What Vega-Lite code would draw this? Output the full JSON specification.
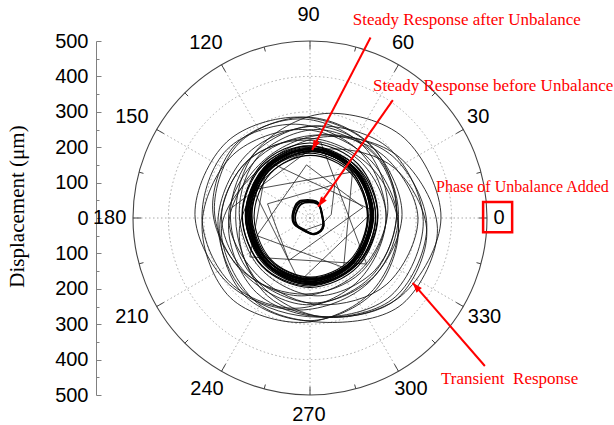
{
  "$schema": "https://vega.github.io/schema/vega-lite/v6.json",
  "width": 354,
  "height": 354,
  "autosize": "none",
  "padding": {"left": 133, "top": 41, "right": 127, "bottom": 30},
  "background": "#ffffff",
  "config": {"view": {"stroke": null}},
  "datasets": {
    "circles": [{"x": 0, "y": 0, "r": 100}, {"x": 0, "y": 0, "r": 200}, {"x": 0, "y": 0, "r": 300}, {"x": 0, "y": 0, "r": 400}],
    "outer": [{"x": 0, "y": 0, "r": 500}],
    "spokes": [
      {"x": 500, "y": 0}, {"x": 433, "y": 250}, {"x": 250, "y": 433}, {"x": 0, "y": 500},
      {"x": -250, "y": 433}, {"x": -433, "y": 250}, {"x": -500, "y": 0}, {"x": -433, "y": -250},
      {"x": -250, "y": -433}, {"x": 0, "y": -500}, {"x": 250, "y": -433}, {"x": 433, "y": -250}
    ],
    "ticks": [
      {"x": 500, "y": 0, "x2": 477, "y2": 0},
      {"x": 433, "y": 250, "x2": 413, "y2": 238.5},
      {"x": 250, "y": 433, "x2": 238.5, "y2": 413},
      {"x": 0, "y": 500, "x2": 0, "y2": 477},
      {"x": -250, "y": 433, "x2": -238.5, "y2": 413},
      {"x": -433, "y": 250, "x2": -413, "y2": 238.5},
      {"x": -500, "y": 0, "x2": -477, "y2": 0},
      {"x": -433, "y": -250, "x2": -413, "y2": -238.5},
      {"x": -250, "y": -433, "x2": -238.5, "y2": -413},
      {"x": 0, "y": -500, "x2": 0, "y2": -477},
      {"x": 250, "y": -433, "x2": 238.5, "y2": -413},
      {"x": 433, "y": -250, "x2": 413, "y2": -238.5},
      {"x": 483, "y": 129.5, "x2": 470.4, "y2": 126.1},
      {"x": 353.5, "y": 353.5, "x2": 344.3, "y2": 344.3},
      {"x": 129.5, "y": 483, "x2": 126.1, "y2": 470.4},
      {"x": -129.5, "y": 483, "x2": -126.1, "y2": 470.4},
      {"x": -353.5, "y": 353.5, "x2": -344.3, "y2": 344.3},
      {"x": -483, "y": 129.5, "x2": -470.4, "y2": 126.1},
      {"x": -483, "y": -129.5, "x2": -470.4, "y2": -126.1},
      {"x": -353.5, "y": -353.5, "x2": -344.3, "y2": -344.3},
      {"x": -129.5, "y": -483, "x2": -126.1, "y2": -470.4},
      {"x": 129.5, "y": -483, "x2": 126.1, "y2": -470.4},
      {"x": 353.5, "y": -353.5, "x2": 344.3, "y2": -344.3},
      {"x": 483, "y": -129.5, "x2": 470.4, "y2": -126.1}
    ],
    "transient": [
      {"g": "t1", "x": 320, "y": -10}, {"g": "t1", "x": 225, "y": 195}, {"g": "t1", "x": 20, "y": 260}, {"g": "t1", "x": -174, "y": 184}, {"g": "t1", "x": -260, "y": -10}, {"g": "t1", "x": -182, "y": -212}, {"g": "t1", "x": 20, "y": -280}, {"g": "t1", "x": 229, "y": -219},
      {"g": "t2", "x": 260, "y": 10}, {"g": "t2", "x": 168, "y": 208}, {"g": "t2", "x": -30, "y": 285}, {"g": "t2", "x": -235, "y": 215}, {"g": "t2", "x": -325, "y": 10}, {"g": "t2", "x": -228, "y": -188}, {"g": "t2", "x": -30, "y": -260}, {"g": "t2", "x": 164, "y": -184},
      {"g": "t3", "x": 360, "y": -30}, {"g": "t3", "x": 252, "y": 172}, {"g": "t3", "x": 50, "y": 230}, {"g": "t3", "x": -130, "y": 150}, {"g": "t3", "x": -250, "y": -30}, {"g": "t3", "x": -155, "y": -235}, {"g": "t3", "x": 50, "y": -295}, {"g": "t3", "x": 262, "y": -242},
      {"g": "t4", "x": 245, "y": 20}, {"g": "t4", "x": 174, "y": 204}, {"g": "t4", "x": -10, "y": 285}, {"g": "t4", "x": -201, "y": 211}, {"g": "t4", "x": -270, "y": 20}, {"g": "t4", "x": -187, "y": -157}, {"g": "t4", "x": -10, "y": -245}, {"g": "t4", "x": 174, "y": -164},
      {"g": "t5", "x": 305, "y": 0}, {"g": "t5", "x": 207, "y": 177}, {"g": "t5", "x": 30, "y": 235}, {"g": "t5", "x": -143, "y": 173}, {"g": "t5", "x": -230, "y": 0}, {"g": "t5", "x": -140, "y": -170}, {"g": "t5", "x": 30, "y": -245}, {"g": "t5", "x": 217, "y": -187},
      {"g": "t6", "x": 250, "y": -20}, {"g": "t6", "x": 167, "y": 167}, {"g": "t6", "x": -20, "y": 250}, {"g": "t6", "x": -218, "y": 178}, {"g": "t6", "x": -305, "y": -20}, {"g": "t6", "x": -225, "y": -225}, {"g": "t6", "x": -20, "y": -295}, {"g": "t6", "x": 171, "y": -211},
      {"g": "t7", "x": 250, "y": 10}, {"g": "t7", "x": 183, "y": 183}, {"g": "t7", "x": 10, "y": 260}, {"g": "t7", "x": -160, "y": 180}, {"g": "t7", "x": -225, "y": 10}, {"g": "t7", "x": -163, "y": -163}, {"g": "t7", "x": 10, "y": -240}, {"g": "t7", "x": 183, "y": -163},
      {"g": "t8", "x": 330, "y": -20}, {"g": "t8", "x": 234, "y": 174}, {"g": "t8", "x": 40, "y": 235}, {"g": "t8", "x": -137, "y": 157}, {"g": "t8", "x": -230, "y": -20}, {"g": "t8", "x": -151, "y": -211}, {"g": "t8", "x": 40, "y": -280}, {"g": "t8", "x": 242, "y": -222},
      {"g": "t9", "x": 215, "y": 0}, {"g": "t9", "x": 144, "y": 184}, {"g": "t9", "x": -40, "y": 265}, {"g": "t9", "x": -234, "y": 194}, {"g": "t9", "x": -305, "y": 0}, {"g": "t9", "x": -224, "y": -184}, {"g": "t9", "x": -40, "y": -255}, {"g": "t9", "x": 137, "y": -177},
      {"g": "t10", "x": 250, "y": -30}, {"g": "t10", "x": 173, "y": 143}, {"g": "t10", "x": 0, "y": 225}, {"g": "t10", "x": -184, "y": 154}, {"g": "t10", "x": -255, "y": -30}, {"g": "t10", "x": -187, "y": -217}, {"g": "t10", "x": 0, "y": -290}, {"g": "t10", "x": 180, "y": -210},
      {"g": "t11", "x": 245, "y": 15}, {"g": "t11", "x": 183, "y": 178}, {"g": "t11", "x": 20, "y": 250}, {"g": "t11", "x": -143, "y": 178}, {"g": "t11", "x": -200, "y": 15}, {"g": "t11", "x": -139, "y": -144}, {"g": "t11", "x": 20, "y": -220}, {"g": "t11", "x": 183, "y": -148},
      {"g": "t12", "x": 215, "y": 5}, {"g": "t12", "x": 141, "y": 161}, {"g": "t12", "x": -15, "y": 220}, {"g": "t12", "x": -174, "y": 164}, {"g": "t12", "x": -250, "y": 5}, {"g": "t12", "x": -178, "y": -158}, {"g": "t12", "x": -15, "y": -215}, {"g": "t12", "x": 144, "y": -154},
      {"g": "t13", "x": 330, "y": -40}, {"g": "t13", "x": 240, "y": 140}, {"g": "t13", "x": 60, "y": 195}, {"g": "t13", "x": -110, "y": 130}, {"g": "t13", "x": -200, "y": -40}, {"g": "t13", "x": -120, "y": -220}, {"g": "t13", "x": 60, "y": -280}, {"g": "t13", "x": 247, "y": -227},
      {"g": "t14", "x": 220, "y": 25}, {"g": "t14", "x": 152, "y": 202}, {"g": "t14", "x": -25, "y": 280}, {"g": "t14", "x": -209, "y": 209}, {"g": "t14", "x": -275, "y": 25}, {"g": "t14", "x": -195, "y": -145}, {"g": "t14", "x": -25, "y": -220}, {"g": "t14", "x": 145, "y": -145},
      {"g": "t15", "x": 370, "y": 0}, {"g": "t15", "x": 266, "y": 226}, {"g": "t15", "x": 40, "y": 295}, {"g": "t15", "x": -151, "y": 191}, {"g": "t15", "x": -210, "y": 0}, {"g": "t15", "x": -144, "y": -184}, {"g": "t15", "x": 40, "y": -280}, {"g": "t15", "x": 259, "y": -219}
    ],
    "spiral": [
      {"g": "s1", "x": -14, "y": -34}, {"g": "s1", "x": 33, "y": -18}, {"g": "s1", "x": 60, "y": 10},
      {"g": "s1", "x": 70, "y": 95}, {"g": "s1", "x": -120, "y": 40}, {"g": "s1", "x": -60, "y": -120}, {"g": "s1", "x": 150, "y": 30},
      {"g": "s1", "x": -10, "y": 150}, {"g": "s1", "x": -150, "y": -50}, {"g": "s1", "x": 95, "y": -140}, {"g": "s1", "x": 120, "y": 130},
      {"g": "s1", "x": -160, "y": 80}, {"g": "s1", "x": -30, "y": -180}, {"g": "s1", "x": 180, "y": 20}, {"g": "s1", "x": -120, "y": 160},
      {"g": "s1", "x": -170, "y": -110}, {"g": "s1", "x": 160, "y": -130}, {"g": "s1", "x": 30, "y": 215}, {"g": "s1", "x": -220, "y": 30}
    ],
    "ring": [
      {"g": "r1", "x": 175, "y": 7}, {"g": "r1", "x": 124, "y": 139}, {"g": "r1", "x": 0, "y": 194}, {"g": "r1", "x": -124, "y": 139}, {"g": "r1", "x": -175, "y": 7}, {"g": "r1", "x": -124, "y": -125}, {"g": "r1", "x": 0, "y": -180}, {"g": "r1", "x": 124, "y": -125},
      {"g": "r2", "x": 173, "y": 5}, {"g": "r2", "x": 123, "y": 134}, {"g": "r2", "x": 3, "y": 188}, {"g": "r2", "x": -117, "y": 134}, {"g": "r2", "x": -167, "y": 5}, {"g": "r2", "x": -117, "y": -124}, {"g": "r2", "x": 3, "y": -178}, {"g": "r2", "x": 123, "y": -124},
      {"g": "r3", "x": 174, "y": 9}, {"g": "r3", "x": 122, "y": 143}, {"g": "r3", "x": -4, "y": 199}, {"g": "r3", "x": -130, "y": 143}, {"g": "r3", "x": -182, "y": 9}, {"g": "r3", "x": -130, "y": -125}, {"g": "r3", "x": -4, "y": -181}, {"g": "r3", "x": 122, "y": -125},
      {"g": "r4", "x": 174, "y": 10}, {"g": "r4", "x": 124, "y": 141}, {"g": "r4", "x": 2, "y": 195}, {"g": "r4", "x": -120, "y": 141}, {"g": "r4", "x": -170, "y": 10}, {"g": "r4", "x": -120, "y": -121}, {"g": "r4", "x": 2, "y": -175}, {"g": "r4", "x": 124, "y": -121},
      {"g": "r5", "x": 178, "y": 4}, {"g": "r5", "x": 125, "y": 140}, {"g": "r5", "x": -2, "y": 196}, {"g": "r5", "x": -129, "y": 140}, {"g": "r5", "x": -182, "y": 4}, {"g": "r5", "x": -129, "y": -132}, {"g": "r5", "x": -2, "y": -188}, {"g": "r5", "x": 125, "y": -132},
      {"g": "r6", "x": 180, "y": 8}, {"g": "r6", "x": 129, "y": 135}, {"g": "r6", "x": 5, "y": 188}, {"g": "r6", "x": -119, "y": 135}, {"g": "r6", "x": -170, "y": 8}, {"g": "r6", "x": -119, "y": -119}, {"g": "r6", "x": 5, "y": -172}, {"g": "r6", "x": 129, "y": -119},
      {"g": "r7", "x": 163, "y": 6}, {"g": "r7", "x": 114, "y": 138}, {"g": "r7", "x": -5, "y": 192}, {"g": "r7", "x": -124, "y": 138}, {"g": "r7", "x": -173, "y": 6}, {"g": "r7", "x": -124, "y": -126}, {"g": "r7", "x": -5, "y": -180}, {"g": "r7", "x": 114, "y": -126},
      {"g": "r8", "x": 177, "y": 12}, {"g": "r8", "x": 125, "y": 142}, {"g": "r8", "x": 1, "y": 196}, {"g": "r8", "x": -123, "y": 142}, {"g": "r8", "x": -175, "y": 12}, {"g": "r8", "x": -123, "y": -118}, {"g": "r8", "x": 1, "y": -172}, {"g": "r8", "x": 125, "y": -118},
      {"g": "r9", "x": 186, "y": 2}, {"g": "r9", "x": 133, "y": 135}, {"g": "r9", "x": 4, "y": 190}, {"g": "r9", "x": -125, "y": 135}, {"g": "r9", "x": -178, "y": 2}, {"g": "r9", "x": -125, "y": -131}, {"g": "r9", "x": 4, "y": -186}, {"g": "r9", "x": 133, "y": -131},
      {"g": "r10", "x": 170, "y": 9}, {"g": "r10", "x": 119, "y": 146}, {"g": "r10", "x": -3, "y": 203}, {"g": "r10", "x": -125, "y": 146}, {"g": "r10", "x": -176, "y": 9}, {"g": "r10", "x": -125, "y": -128}, {"g": "r10", "x": -3, "y": -185}, {"g": "r10", "x": 119, "y": -128},
      {"g": "r11", "x": 165, "y": 5}, {"g": "r11", "x": 117, "y": 131}, {"g": "r11", "x": 0, "y": 183}, {"g": "r11", "x": -117, "y": 131}, {"g": "r11", "x": -165, "y": 5}, {"g": "r11", "x": -117, "y": -121}, {"g": "r11", "x": 0, "y": -173}, {"g": "r11", "x": 117, "y": -121},
      {"g": "r12", "x": 191, "y": 7}, {"g": "r12", "x": 137, "y": 141}, {"g": "r12", "x": 6, "y": 197}, {"g": "r12", "x": -125, "y": 141}, {"g": "r12", "x": -179, "y": 7}, {"g": "r12", "x": -125, "y": -127}, {"g": "r12", "x": 6, "y": -183}, {"g": "r12", "x": 137, "y": -127},
      {"g": "r13", "x": 171, "y": 8}, {"g": "r13", "x": 119, "y": 137}, {"g": "r13", "x": -6, "y": 190}, {"g": "r13", "x": -131, "y": 137}, {"g": "r13", "x": -183, "y": 8}, {"g": "r13", "x": -131, "y": -121}, {"g": "r13", "x": -6, "y": -174}, {"g": "r13", "x": 119, "y": -121},
      {"g": "r14", "x": 173, "y": 6}, {"g": "r14", "x": 123, "y": 140}, {"g": "r14", "x": 2, "y": 195}, {"g": "r14", "x": -119, "y": 140}, {"g": "r14", "x": -169, "y": 6}, {"g": "r14", "x": -119, "y": -128}, {"g": "r14", "x": 2, "y": -183}, {"g": "r14", "x": 123, "y": -128},
      {"g": "r15", "x": 178, "y": 10}, {"g": "r15", "x": 126, "y": 142}, {"g": "r15", "x": -1, "y": 196}, {"g": "r15", "x": -128, "y": 142}, {"g": "r15", "x": -180, "y": 10}, {"g": "r15", "x": -128, "y": -122}, {"g": "r15", "x": -1, "y": -176}, {"g": "r15", "x": 126, "y": -122},
      {"g": "r16", "x": 177, "y": 3}, {"g": "r16", "x": 126, "y": 139}, {"g": "r16", "x": 3, "y": 195}, {"g": "r16", "x": -120, "y": 139}, {"g": "r16", "x": -171, "y": 3}, {"g": "r16", "x": -120, "y": -133}, {"g": "r16", "x": 3, "y": -189}, {"g": "r16", "x": 126, "y": -133},
      {"g": "r17", "x": 192, "y": 8}, {"g": "r17", "x": 136, "y": 152}, {"g": "r17", "x": 0, "y": 212}, {"g": "r17", "x": -136, "y": 152}, {"g": "r17", "x": -192, "y": 8}, {"g": "r17", "x": -136, "y": -136}, {"g": "r17", "x": 0, "y": -196}, {"g": "r17", "x": 136, "y": -136},
      {"g": "r18", "x": 162, "y": 5}, {"g": "r18", "x": 115, "y": 127}, {"g": "r18", "x": 2, "y": 177}, {"g": "r18", "x": -111, "y": 127}, {"g": "r18", "x": -158, "y": 5}, {"g": "r18", "x": -111, "y": -117}, {"g": "r18", "x": 2, "y": -167}, {"g": "r18", "x": 115, "y": -117},
      {"g": "r19", "x": 185, "y": 6}, {"g": "r19", "x": 130, "y": 146}, {"g": "r19", "x": -3, "y": 204}, {"g": "r19", "x": -136, "y": 146}, {"g": "r19", "x": -191, "y": 6}, {"g": "r19", "x": -136, "y": -134}, {"g": "r19", "x": -3, "y": -192}, {"g": "r19", "x": 130, "y": -134},
      {"g": "r20", "x": 172, "y": 9}, {"g": "r20", "x": 123, "y": 135}, {"g": "r20", "x": 4, "y": 187}, {"g": "r20", "x": -115, "y": 135}, {"g": "r20", "x": -164, "y": 9}, {"g": "r20", "x": -115, "y": -117}, {"g": "r20", "x": 4, "y": -169}, {"g": "r20", "x": 123, "y": -117}
    ],
    "before": [
      {"g": "b1", "x": -28, "y": 44}, {"g": "b1", "x": -5, "y": 48}, {"g": "b1", "x": 19, "y": 44}, {"g": "b1", "x": 28, "y": 32}, {"g": "b1", "x": 35, "y": 4}, {"g": "b1", "x": 38, "y": -20}, {"g": "b1", "x": 30, "y": -37}, {"g": "b1", "x": 9, "y": -46}, {"g": "b1", "x": -19, "y": -34}, {"g": "b1", "x": -42, "y": -18}, {"g": "b1", "x": -47, "y": 4}, {"g": "b1", "x": -40, "y": 29},
      {"g": "b2", "x": -24, "y": 40}, {"g": "b2", "x": -2, "y": 44}, {"g": "b2", "x": 21, "y": 40}, {"g": "b2", "x": 30, "y": 28}, {"g": "b2", "x": 36, "y": 2}, {"g": "b2", "x": 39, "y": -21}, {"g": "b2", "x": 31, "y": -37}, {"g": "b2", "x": 12, "y": -46}, {"g": "b2", "x": -15, "y": -34}, {"g": "b2", "x": -37, "y": -19}, {"g": "b2", "x": -42, "y": 2}, {"g": "b2", "x": -35, "y": 26},
      {"g": "b3", "x": -31, "y": 47}, {"g": "b3", "x": -7, "y": 51}, {"g": "b3", "x": 18, "y": 47}, {"g": "b3", "x": 27, "y": 35}, {"g": "b3", "x": 34, "y": 6}, {"g": "b3", "x": 37, "y": -19}, {"g": "b3", "x": 29, "y": -36}, {"g": "b3", "x": 7, "y": -45}, {"g": "b3", "x": -22, "y": -33}, {"g": "b3", "x": -45, "y": -17}, {"g": "b3", "x": -50, "y": 6}, {"g": "b3", "x": -43, "y": 32}
    ],
    "angles": [
      {"x": -4, "y": 573, "t": "90"}, {"x": 263, "y": 494, "t": "60"}, {"x": 475, "y": 285, "t": "30"},
      {"x": 534, "y": 0, "t": "0"}, {"x": 493, "y": -280, "t": "330"}, {"x": 285, "y": -483, "t": "300"},
      {"x": -3, "y": -556, "t": "270"}, {"x": -291, "y": -483, "t": "240"}, {"x": -503, "y": -280, "t": "210"},
      {"x": -566, "y": 0, "t": "180"}, {"x": -503, "y": 285, "t": "150"}, {"x": -294, "y": 494, "t": "120"}
    ],
    "notes": [
      {"x": 121, "y": 559, "t": "Steady Response after Unbalance", "s": 17},
      {"x": 178, "y": 373, "t": "Steady Response before Unbalance", "s": 17},
      {"x": 356, "y": 88, "t": "Phase of Unbalance Added", "s": 16},
      {"x": 370, "y": -455, "t": "Transient\u00a0 Response", "s": 17}
    ],
    "box": [{"x": 489, "x2": 571, "y": 45, "y2": -40}],
    "arrows": [
      {"x": 6, "y": 192, "x2": 171, "y2": 510},
      {"x": 23, "y": 32, "x2": 234, "y2": 333},
      {"x": 290, "y": -183, "x2": 494, "y2": -418}
    ]
  },
  "encoding": {
    "x": {"field": "x", "type": "quantitative", "scale": {"domain": [-500, 500], "nice": false, "zero": false}, "axis": null},
    "y": {
      "field": "y",
      "type": "quantitative",
      "scale": {"domain": [-500, 500], "nice": false, "zero": false},
      "axis": {
        "values": [-500, -450, -400, -350, -300, -250, -200, -150, -100, -50, 0, 50, 100, 150, 200, 250, 300, 350, 400, 450, 500],
        "labelExpr": "datum.value % 100 === 0 ? abs(datum.value) : ''",
        "offset": 37,
        "tickSize": {"condition": {"test": "datum.value % 100 !== 0", "value": -3}, "value": -5},
        "labelPadding": 13,
        "labelFont": "Liberation Sans",
        "labelFontSize": 20,
        "labelColor": "#000000",
        "labelOverlap": false,
        "labelBound": false,
        "domainColor": "#808080",
        "tickColor": "#808080",
        "grid": false,
        "title": "Displacement (μm)",
        "titleFont": "Liberation Serif",
        "titleFontSize": 21,
        "titleFontWeight": "normal",
        "titleColor": "#000000",
        "titlePadding": 27,
        "titleY": 165
      }
    }
  },
  "layer": [
    {
      "data": {"name": "circles"},
      "mark": {"type": "point", "shape": "circle", "filled": false, "stroke": "#a0a0a0", "strokeWidth": 0.9, "strokeDash": [1.5, 2.5], "opacity": 1},
      "encoding": {"size": {"field": "r", "type": "quantitative", "scale": {"type": "pow", "exponent": 2, "domain": [0, 500], "range": [0, 125316]}, "legend": null}}
    },
    {
      "data": {"name": "spokes"},
      "mark": {"type": "rule", "color": "#a0a0a0", "strokeWidth": 0.9, "strokeDash": [1.5, 2.5]},
      "encoding": {"x2": {"datum": 0}, "y2": {"datum": 0}}
    },
    {
      "data": {"name": "outer"},
      "mark": {"type": "point", "shape": "circle", "filled": false, "stroke": "#444444", "strokeWidth": 1.1, "opacity": 1},
      "encoding": {"size": {"field": "r", "type": "quantitative", "scale": {"type": "pow", "exponent": 2, "domain": [0, 500], "range": [0, 125316]}, "legend": null}}
    },
    {
      "data": {"name": "ticks"},
      "mark": {"type": "rule", "color": "#444444", "strokeWidth": 1},
      "encoding": {"x2": {"field": "x2"}, "y2": {"field": "y2"}}
    },
    {
      "data": {"name": "transient"},
      "mark": {"type": "line", "interpolate": "cardinal-closed", "color": "#111111", "strokeWidth": 0.85},
      "encoding": {"detail": {"field": "g"}, "order": {"value": null}}
    },
    {
      "data": {"name": "spiral"},
      "mark": {"type": "line", "color": "#222222", "strokeWidth": 0.8},
      "encoding": {"detail": {"field": "g"}, "order": {"value": null}}
    },
    {
      "data": {"name": "ring"},
      "mark": {"type": "line", "interpolate": "cardinal-closed", "color": "#000000", "strokeWidth": 1.1},
      "encoding": {"detail": {"field": "g"}, "order": {"value": null}}
    },
    {
      "data": {"name": "before"},
      "mark": {"type": "line", "interpolate": "cardinal-closed", "color": "#000000", "strokeWidth": 1.8},
      "encoding": {"detail": {"field": "g"}, "order": {"value": null}}
    },
    {
      "data": {"name": "angles"},
      "mark": {"type": "text", "font": "Liberation Sans", "fontSize": 20, "color": "#000000", "align": "center", "baseline": "middle"},
      "encoding": {"text": {"field": "t"}}
    },
    {
      "data": {"name": "box"},
      "mark": {"type": "rect", "fill": "transparent", "stroke": "#ff0000", "strokeWidth": 2.5},
      "encoding": {"x2": {"field": "x2"}, "y2": {"field": "y2"}}
    },
    {
      "data": {"name": "notes"},
      "mark": {"type": "text", "font": "Liberation Serif", "color": "#ff0000", "align": "left", "baseline": "middle"},
      "encoding": {"text": {"field": "t"}, "size": {"field": "s", "type": "quantitative", "scale": null}}
    },
    {
      "data": {"name": "arrows"},
      "mark": {"type": "rule", "color": "#ff0000", "strokeWidth": 2},
      "encoding": {"x2": {"field": "x2"}, "y2": {"field": "y2"}}
    },
    {
      "data": {"name": "arrows"},
      "transform": [{"calculate": "atan2(datum.x - datum.x2, datum.y - datum.y2) * 180 / PI", "as": "ang"}],
      "mark": {"type": "point", "shape": "M0,0L0.7,2L-0.7,2Z", "size": 100, "filled": true, "color": "#ff0000", "opacity": 1, "strokeWidth": 0},
      "encoding": {"angle": {"field": "ang", "type": "quantitative", "scale": null}}
    }
  ]
}
